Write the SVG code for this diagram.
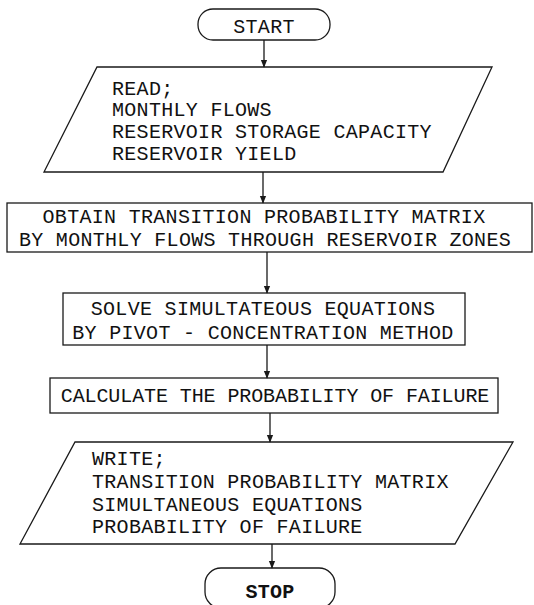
<svg xmlns="http://www.w3.org/2000/svg" width="534" height="605" viewBox="0 0 534 605">
<style>
.s{fill:none;stroke:#1a1a1a;stroke-width:1.3}
.t{font-family:"Liberation Mono","DejaVu Sans Mono",monospace;font-size:20px;fill:#111;letter-spacing:0.3px}
.c{text-anchor:middle}
.e{stroke:#1a1a1a;stroke-width:1.3;fill:none}
</style>
<defs>
<marker id="ah" markerWidth="8" markerHeight="10" refX="4" refY="9" orient="auto-start-reverse" markerUnits="userSpaceOnUse" viewBox="0 0 8 10">
<path d="M0,0 L8,0 L4,10 Z" fill="#1a1a1a" transform="rotate(-90 4 5) translate(0 0)"/>
</marker>
<marker id="arr" markerWidth="8" markerHeight="10" refX="9" refY="4" orient="auto" markerUnits="userSpaceOnUse" viewBox="0 0 10 8">
<path d="M0,0 L10,4 L0,8 Z" fill="#1a1a1a"/>
</marker>
</defs>
<rect width="534" height="605" fill="#fff"/>
<g id="start">
<rect class="s" x="198" y="9" width="132" height="31" rx="15" ry="15"/>
<text class="t c" x="264" y="33">START</text>
</g>
<g id="read">
<polygon class="s" points="97,67 492,67 443,172 44,172"/>
<text class="t" x="112" y="95">READ;</text>
<text class="t" x="112" y="116">MONTHLY FLOWS</text>
<text class="t" x="112" y="138">RESERVOIR STORAGE CAPACITY</text>
<text class="t" x="112" y="160">RESERVOIR YIELD</text>
</g>
<g id="obtain">
<rect class="s" x="7" y="203" width="525" height="49"/>
<text class="t c" x="264" y="223">OBTAIN TRANSITION PROBABILITY MATRIX</text>
<text class="t c" x="265" y="246">BY MONTHLY FLOWS THROUGH RESERVOIR ZONES</text>
</g>
<g id="solve">
<rect class="s" x="63" y="293" width="402" height="52"/>
<text class="t c" x="263" y="315">SOLVE SIMULTATEOUS EQUATIONS</text>
<text class="t c" x="263" y="339">BY PIVOT - CONCENTRATION METHOD</text>
</g>
<g id="calculate">
<rect class="s" x="50" y="378" width="448" height="35"/>
<text class="t c" x="275" y="402" style="letter-spacing:-0.1px">CALCULATE THE PROBABILITY OF FAILURE</text>
</g>
<g id="write">
<polygon class="s" points="75,442 513,442 455,544 20,544"/>
<text class="t" x="92" y="465">WRITE;</text>
<text class="t" x="92" y="488">TRANSITION PROBABILITY MATRIX</text>
<text class="t" x="92" y="511">SIMULTANEOUS EQUATIONS</text>
<text class="t" x="92" y="533">PROBABILITY OF FAILURE</text>
</g>
<g id="stop">
<rect class="s" x="205" y="568" width="130" height="40" rx="16" ry="16"/>
<text class="t c" x="270" y="598" font-weight="bold">STOP</text>
</g>
<g id="connectors">
<line class="e" x1="264" y1="40" x2="264" y2="67" marker-end="url(#arr)"/>
<line class="e" x1="263" y1="172" x2="263" y2="203" marker-end="url(#arr)"/>
<line class="e" x1="267" y1="252" x2="267" y2="293" marker-end="url(#arr)"/>
<line class="e" x1="267" y1="345" x2="267" y2="378" marker-end="url(#arr)"/>
<line class="e" x1="270" y1="413" x2="270" y2="442" marker-end="url(#arr)"/>
<line class="e" x1="272" y1="544" x2="272" y2="568" marker-end="url(#arr)"/>
</g>
</svg>
